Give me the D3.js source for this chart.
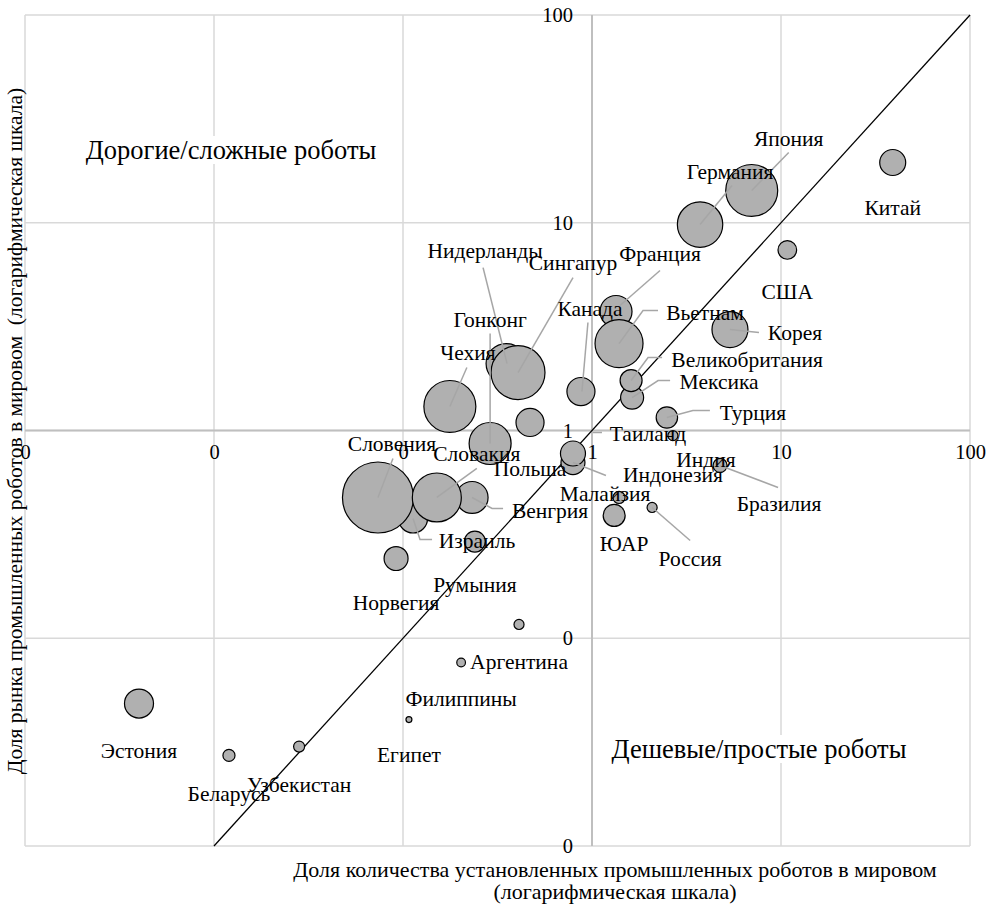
<!DOCTYPE html>
<html>
<head>
<meta charset="utf-8">
<script src="https://cdn.jsdelivr.net/npm/d3@7"></script>
<style>
  body { margin: 0; background: #fff; }
  svg text { font-family: "Liberation Serif", "Times New Roman", serif; fill: #000; }
</style>
</head>
<body>
<div id="chart"></div>
<script>
// Chart area size
const width = 990;
const height = 905;

// Countries, in drawing order
const countries = ["Китай", "Япония", "Германия", "США", "Корея", "Франция", "Вьетнам", "Мексика",
  "Великобритания", "Турция", "Индия", "Индонезия", "Таиланд", "Бразилия", "Малайзия", "Россия",
  "ЮАР", "Канада", "Нидерланды", "Сингапур", "Гонконг", "Чехия", "Польша", "Израиль", "Словения",
  "Венгрия", "Словакия", "Румыния", "Норвегия", "Аргентина", "Филиппины", "Египет", "Эстония",
  "Беларусь", "Узбекистан"];

// share of installed robots in the world, %
const installShare = [39, 7.0, 3.73, 10.8, 5.37, 1.34, 1.39, 1.63,
  1.61, 2.49, 2.68, 0.793, 0.793, 4.76, 1.39, 2.08,
  1.31, 0.874, 0.351, 0.406, 0.289, 0.177, 0.47, 0.113, 0.0737,
  0.232, 0.151, 0.24, 0.0919, 0.411, 0.203, 0.1075, 0.00401,
  0.012, 0.0282];

// share of the robot market in the world, %
const marketShare = [19.5, 14.3, 9.8, 7.4, 3.06, 3.74, 2.62, 1.44,
  1.74, 1.155, 0.946, 0.701, 0.775, 0.679, 0.476, 0.426,
  0.39, 1.54, 2.10, 1.90, 0.866, 1.305, 1.093, 0.377, 0.476,
  0.476, 0.476, 0.292, 0.242, 0.1165, 0.0764, 0.0406, 0.0485,
  0.0273, 0.0301];

// bubble size
const bubbleSize = [13.4, 53.6, 40.9, 6.9, 25.7, 20.3, 45.7, 10.5,
  9.6, 9.1, 2.0, 11.4, 12.4, 3.9, 2.9, 2.0,
  9.6, 15.6, 31.7, 57.8, 35.0, 53.6, 15.6, 16.7, 100,
  20.3, 47.6, 8.7, 11.4, 2.0, 1.5, 0.7, 16.7,
  2.9, 2.4];

// tick values of both log axes
const xTicks = [0.001, 0.01, 0.1, 1, 10, 100];
const yTicks = [0.01, 0.1, 1, 10, 100];

// labels moved away from their bubble: label offset and leader line points (px, from bubble centre)
const labelMoves = {
  "Япония": { at: [37, -52], leader: [[37, -38], [0, 0]] },
  "Германия": { at: [30, -53], leader: [[32, -39], [0, 0]] },
  "Корея": { at: [65, 3], leader: [[29, 3], [0, 0]] },
  "Франция": { at: [44, -58], leader: [[44, -41], [4, -6]] },
  "Вьетнам": { at: [86, -31], leader: [[39, -33], [24, -33], [0, 0]] },
  "Великобритания": { at: [116, -21], leader: [[31, -23], [17, -23], [0, 0]] },
  "Мексика": { at: [87, -16], leader: [[38, -17], [26, -17], [0, 0]] },
  "Турция": { at: [86, -5], leader: [[43, -7], [26, -7], [0, 0]] },
  "Таиланд": { at: [75, -20], leader: [[29, -21], [20, -21]] },
  "Индия": { at: [33, 24] },
  "Бразилия": { at: [59, 38], leader: [[58, 22], [0, 0]] },
  "Индонезия": { at: [100, 12], leader: [[33, 13], [0, 0]] },
  "Малайзия": { at: [-14, -4] },
  "Россия": { at: [38, 51], leader: [[38, 33], [0, 0]] },
  "ЮАР": { at: [10, 28] },
  "Канада": { at: [9, -83], leader: [[7, -69], [1, 0]] },
  "Сингапур": { at: [55, -110], leader: [[55, -95], [0, 0]] },
  "Нидерланды": { at: [-21, -113], leader: [[-23, -96], [1, 0]] },
  "Гонконг": { at: [0, -124], leader: [[0, -110], [0, 0]] },
  "Чехия": { at: [18, -54], leader: [[17, -39], [0, 0]] },
  "Словения": { at: [14, -54], leader: [[15, -39], [0, 0]] },
  "Словакия": { at: [40, -44], leader: [[40, -29], [0, 0]] },
  "Венгрия": { at: [78, 13], leader: [[31, 11], [20, 11], [0, 0]] },
  "Израиль": { at: [64, 22], leader: [[19, 21], [7, 21], [0, 0]] }
};

const serif = "Liberation Serif";

const x = d3.scaleLog().domain([0.001, 100]).range([25, 970]);
const y = d3.scaleLog().domain([0.01, 100]).range([846, 15]);
const r = d3.scaleSqrt().domain([0, 100]).range([0, 35.5]);

const data = countries.map((c, i) => ({
  name: c, x: installShare[i], y: marketShare[i], s: bubbleSize[i]
}));

const svg = d3.select("#chart").append("svg")
  .attr("width", width)
  .attr("height", height)
  .style("font-family", serif);

// gridlines
svg.append("g").selectAll("line")
  .data(xTicks)
  .enter().append("line")
  .attr("x1", d => x(d)).attr("x2", d => x(d))
  .attr("y1", y.range()[0]).attr("y2", y.range()[1])
  .attr("stroke", "#d9d9d9").attr("stroke-width", 1.5);

svg.append("g").selectAll("line")
  .data(yTicks)
  .enter().append("line")
  .attr("y1", d => y(d)).attr("y2", d => y(d))
  .attr("x1", x.range()[0]).attr("x2", x.range()[1])
  .attr("stroke", "#d9d9d9").attr("stroke-width", 1.5);

// axis lines through 1
svg.append("line")
  .attr("x1", x.range()[0]).attr("x2", x.range()[1])
  .attr("y1", y(1)).attr("y2", y(1))
  .attr("stroke", "#bfbfbf").attr("stroke-width", 2);
svg.append("line")
  .attr("x1", x(1)).attr("x2", x(1))
  .attr("y1", y.range()[0]).attr("y2", y.range()[1])
  .attr("stroke", "#bfbfbf").attr("stroke-width", 2);

// quadrant notes with white background
function quadrantNote(text, cx, cy) {
  const g = svg.append("g");
  const t = g.append("text")
    .attr("x", cx).attr("y", cy)
    .attr("text-anchor", "middle")
    .attr("dy", "0.35em")
    .style("font-family", serif)
    .style("font-size", "26.5px")
    .text(text);
  const b = t.node().getBBox();
  g.insert("rect", "text")
    .attr("x", b.x - 2).attr("y", cy - 14)
    .attr("width", b.width + 4).attr("height", 28)
    .attr("fill", "#fff");
}
quadrantNote("Дорогие/сложные роботы", 231, 150);
quadrantNote("Дешевые/простые роботы", 759, 749);

// y = x diagonal
svg.append("line")
  .attr("x1", x(0.01)).attr("y1", y(0.01))
  .attr("x2", x(100)).attr("y2", y(100))
  .attr("stroke", "#000").attr("stroke-width", 1.3);

// axes tick labels
const fmt = d => String(Math.round(d));
const xAxis = svg.append("g")
  .attr("transform", `translate(0,${y(1)})`)
  .call(d3.axisBottom(x).tickValues(xTicks).tickSize(0).tickPadding(14).tickFormat(fmt));
const yAxis = svg.append("g")
  .attr("transform", `translate(${x(1)},0)`)
  .call(d3.axisLeft(y).tickValues(yTicks).tickSize(0).tickPadding(19).tickFormat(fmt));
[xAxis, yAxis].forEach(a => {
  a.attr("font-family", serif);
  a.select(".domain").remove();
  a.selectAll("text").style("font-family", serif).style("font-size", "20.5px");
});

// bubbles
svg.append("g").selectAll("circle")
  .data(data)
  .enter().append("circle")
  .attr("cx", d => x(d.x))
  .attr("cy", d => y(d.y))
  .attr("r", d => r(d.s))
  .attr("fill", "#b0b0b0")
  .attr("stroke", "#000")
  .attr("stroke-width", 1.2);

// leader lines
const line = d3.line();
svg.append("g").selectAll("path")
  .data(data.filter(d => labelMoves[d.name] && labelMoves[d.name].leader))
  .enter().append("path")
  .attr("d", d => line(labelMoves[d.name].leader.map(p => [x(d.x) + p[0], y(d.y) + p[1]])))
  .attr("fill", "none")
  .attr("stroke", "#a6a6a6")
  .attr("stroke-width", 1.5);

// country labels
svg.append("g").selectAll("text")
  .data(data)
  .enter().append("text")
  .attr("x", d => x(d.x) + (labelMoves[d.name] ? labelMoves[d.name].at[0] : 0))
  .attr("y", d => y(d.y) + (labelMoves[d.name] ? labelMoves[d.name].at[1] : r(d.s) + 32))
  .attr("text-anchor", "middle")
  .attr("dy", "0.35em")
  .style("font-family", serif)
  .style("font-size", "21.5px")
  .text(d => d.name);

// axis titles
svg.append("text")
  .attr("x", 615).attr("y", 869)
  .attr("text-anchor", "middle").attr("dy", "0.35em")
  .style("font-family", serif)
  .style("font-size", "22px")
  .text("Доля количества установленных промышленных роботов в мировом");
svg.append("text")
  .attr("x", 615).attr("y", 891)
  .attr("text-anchor", "middle").attr("dy", "0.35em")
  .style("font-family", serif)
  .style("font-size", "22px")
  .text("(логарифмическая шкала)");
svg.append("text")
  .attr("transform", "translate(14,431) rotate(-90)")
  .attr("text-anchor", "middle").attr("dy", "0.35em")
  .style("font-family", serif)
  .style("font-size", "21.5px")
  .style("white-space", "pre")
  .text("Доля рынка промышленных роботов в мировом  (логарифмическая шкала)");
</script>
</body>
</html>
